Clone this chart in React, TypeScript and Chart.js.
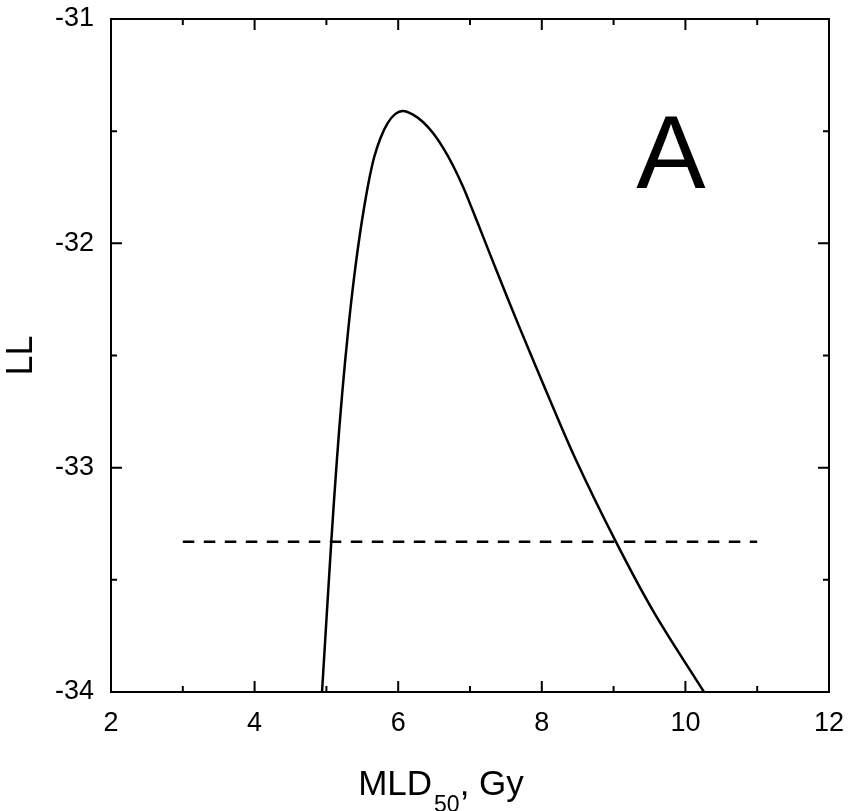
import { useEffect, useRef } from "react";
import { Chart, registerables } from "chart.js";

Chart.register(...registerables);

// ---- data ----
const curveX = [4.939, 5.068, 5.146, 5.22, 5.308, 5.39, 5.465, 5.531, 5.599, 5.667, 5.755, 5.851, 5.961, 6.067, 6.206, 6.345, 6.485, 6.624, 6.763, 6.903, 7.042, 7.181, 7.376, 7.682, 8.072, 8.476, 9.033, 9.562, 10.259];
const curveY = [-34.0, -33.33, -32.966, -32.669, -32.372, -32.141, -31.963, -31.829, -31.71, -31.614, -31.529, -31.465, -31.423, -31.41, -31.426, -31.459, -31.508, -31.573, -31.653, -31.748, -31.857, -31.969, -32.127, -32.369, -32.667, -32.966, -33.331, -33.645, -34.0];
const thresholdX = [3, 11];
const thresholdY = [-33.33, -33.33];
const xTicks = [2, 4, 6, 8, 10, 12];
const yTicks = [-34, -33, -32, -31];
const xTitleParts = ["MLD", "50", ", Gy"];
const yTitle = "LL";
const panelLabel = "A";
const panelPos = { x: 9.8, y: -31.755 };

const FONT = '"Liberation Sans", Arial, sans-serif';

const mids = (arr: number[]) => arr.slice(0, -1).map((v, i) => (v + arr[i + 1]) / 2);

const framePlugin = {
  id: "frameTicksTitles",
  afterDraw(chart: any) {
    const { ctx, chartArea: a, scales } = chart;
    const xs = scales.x;
    const ys = scales.y;
    ctx.save();
    ctx.strokeStyle = "#000";
    ctx.fillStyle = "#000";
    ctx.lineWidth = 2;
    ctx.setLineDash([]);
    ctx.strokeRect(a.left, a.top, a.right - a.left, a.bottom - a.top);

    const major = 11;
    const minor = 6;
    const drawX = (v: number, len: number) => {
      const p = xs.getPixelForValue(v);
      ctx.beginPath();
      ctx.moveTo(p, a.bottom);
      ctx.lineTo(p, a.bottom - len);
      ctx.moveTo(p, a.top);
      ctx.lineTo(p, a.top + len);
      ctx.stroke();
    };
    const drawY = (v: number, len: number) => {
      const p = ys.getPixelForValue(v);
      ctx.beginPath();
      ctx.moveTo(a.left, p);
      ctx.lineTo(a.left + len, p);
      ctx.moveTo(a.right, p);
      ctx.lineTo(a.right - len, p);
      ctx.stroke();
    };
    xTicks.forEach((v) => drawX(v, major));
    mids(xTicks).forEach((v) => drawX(v, minor));
    yTicks.forEach((v) => drawY(v, major));
    mids(yTicks).forEach((v) => drawY(v, minor));

    // x title with subscript
    const big = `35px ${FONT}`;
    const small = `23px ${FONT}`;
    ctx.textBaseline = "alphabetic";
    ctx.textAlign = "left";
    ctx.font = big;
    const w0 = ctx.measureText(xTitleParts[0]).width;
    const w2 = ctx.measureText(xTitleParts[2]).width;
    ctx.font = small;
    const w1 = ctx.measureText(xTitleParts[1]).width;
    const total = w0 + w1 + w2 + 2;
    const cx = (a.left + a.right) / 2 - 29;
    let x0 = cx - total / 2;
    const base = a.bottom + 103;
    ctx.font = big;
    ctx.fillText(xTitleParts[0], x0, base);
    x0 += w0 + 2;
    ctx.font = small;
    ctx.fillText(xTitleParts[1], x0, base + 17);
    x0 += w1;
    ctx.font = big;
    ctx.fillText(xTitleParts[2], x0, base);

    // y title
    ctx.save();
    ctx.translate(a.left - 79, (a.top + a.bottom) / 2);
    ctx.rotate(-Math.PI / 2);
    ctx.textAlign = "center";
    ctx.font = `36px ${FONT}`;
    ctx.fillText(yTitle, 0, 0);
    ctx.restore();

    // panel label
    ctx.font = `104px ${FONT}`;
    ctx.textAlign = "center";
    ctx.fillText(panelLabel, xs.getPixelForValue(panelPos.x), ys.getPixelForValue(panelPos.y));
    ctx.restore();
  },
};

const zeroPad = (s: any) => {
  s.paddingLeft = 0;
  s.paddingRight = 0;
  s.paddingTop = 0;
  s.paddingBottom = 0;
};

export default function App() {
  const ref = useRef<HTMLCanvasElement>(null);
  useEffect(() => {
    const tickFont = { family: FONT, size: 27 };
    const chart = new Chart(ref.current!, {
      type: "scatter",
      data: {
        datasets: [
          {
            data: curveX.map((x, i) => ({ x, y: curveY[i] })),
            showLine: true,
            borderColor: "#000",
            borderWidth: 2.5,
            pointRadius: 0,
            tension: 0.35,
            fill: false,
          },
          {
            data: thresholdX.map((x, i) => ({ x, y: thresholdY[i] })),
            showLine: true,
            borderColor: "#000",
            borderWidth: 2.5,
            borderDash: [11.5, 9.5],
            pointRadius: 0,
            fill: false,
          },
        ],
      },
      options: {
        responsive: true,
        maintainAspectRatio: false,
        animation: false,
        layout: { padding: { top: 19, right: 20, left: 0, bottom: 0 } },
        plugins: { legend: { display: false }, tooltip: { enabled: false } },
        scales: {
          x: {
            type: "linear",
            min: 2,
            max: 12,
            afterBuildTicks: (s: any) => {
              s.ticks = xTicks.map((v) => ({ value: v }));
            },
            afterFit: (s: any) => {
              s.height = 119;
              zeroPad(s);
            },
            ticks: {
              font: tickFont,
              color: "#000",
              padding: 15,
              maxRotation: 0,
              autoSkip: false,
              callback: (v: any) => String(v),
            },
            grid: { display: false, drawTicks: false },
            border: { display: false },
          },
          y: {
            type: "linear",
            min: -34,
            max: -31,
            afterBuildTicks: (s: any) => {
              s.ticks = yTicks.map((v) => ({ value: v }));
            },
            afterFit: (s: any) => {
              s.width = 111;
              zeroPad(s);
            },
            ticks: {
              font: tickFont,
              color: "#000",
              padding: 17,
              autoSkip: false,
              callback: (v: any) => String(v),
            },
            grid: { display: false, drawTicks: false },
            border: { display: false },
          },
        },
      } as any,
      plugins: [framePlugin],
    });
    return () => chart.destroy();
  }, []);
  return (
    <div style={{ position: "fixed", left: 0, top: 0, width: 849, height: 811, background: "#fff" }}>
      <canvas ref={ref} />
    </div>
  );
}
